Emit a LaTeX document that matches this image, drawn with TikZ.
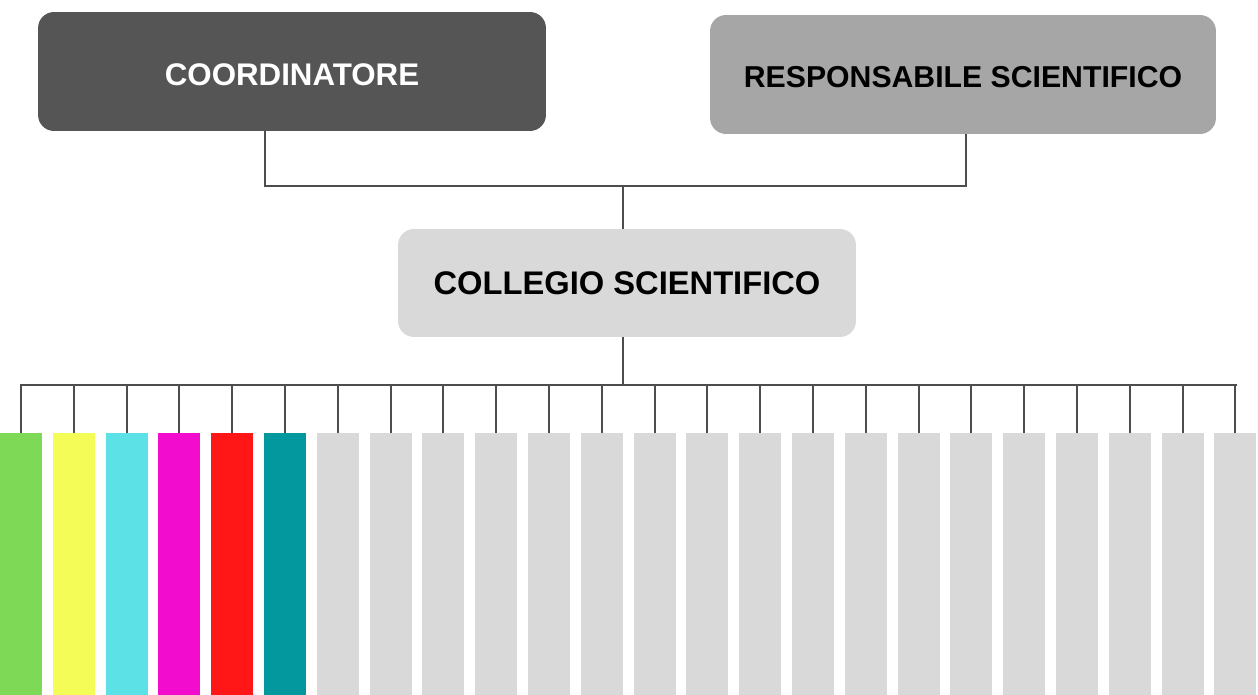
\documentclass[tikz,border=0pt]{standalone}
\usepackage{fontspec}
\setmainfont{Liberation Sans}
\usepackage{tikz}
\usetikzlibrary{positioning}

\definecolor{boxdark}{HTML}{555555}
\definecolor{boxmid}{HTML}{A6A6A6}
\definecolor{boxlight}{HTML}{D9D9D9}
\definecolor{linegray}{HTML}{4D4D4D}
\definecolor{barA}{HTML}{7ED957}
\definecolor{barB}{HTML}{F4FD57}
\definecolor{barC}{HTML}{5CE1E6}
\definecolor{barD}{HTML}{F20CCD}
\definecolor{barE}{HTML}{FF1616}
\definecolor{barF}{HTML}{03989E}

\begin{document}
\begin{tikzpicture}[x=0.02cm, y=-0.02cm,
    box/.style={rounded corners=0.32cm, inner sep=0pt, align=center,
        font=\fontsize{17.5}{20}\selectfont\bfseries},
    bar/.style={minimum width=0.84cm, minimum height=5.3cm, inner sep=0pt, anchor=north},
    link/.style={draw=linegray, line width=1.1pt}]
    \useasboundingbox (0,0) rectangle (1258,695);

    % Vertici
    \node (coord) [box, fill=boxdark, text=white, minimum width=10.16cm, minimum height=2.38cm,
        text height=0.56cm, font=\fontsize{17.8}{20}\selectfont\bfseries]
        at (292,71.5) {COORDINATORE};
    \node (resp) [box, fill=boxmid, minimum width=10.12cm, minimum height=2.38cm,
        text height=0.52cm, font=\fontsize{17.2}{20}\selectfont\bfseries]
        at (963,74.5) {RESPONSABILE SCIENTIFICO};
    \node (coll) [box, fill=boxlight, minimum width=9.16cm, minimum height=2.16cm,
        font=\fontsize{18.6}{20}\selectfont\bfseries] at (627,283) {COLLEGIO SCIENTIFICO};

    \coordinate (join) at (623,186);
    \coordinate (busL) at (20,385);
    \coordinate (busR) at (1237,385);

    \draw [link] ([xshift=-0.54cm]coord.south) |- (join) -| ([xshift=0.06cm]resp.south);
    \draw [link] (join) -- (coll.north -| join);
    \draw [link] (coll.south -| join) -- (join |- busL);
    \draw [link] (busL) -- (busR);

    % Gruppi colorati
    \foreach \i/\c in {1/barA, 2/barB, 3/barC, 4/barD, 5/barE, 6/barF}
        \node (b\i) [bar, fill=\c] at ({21+52.8*(\i-1)},433) {};

    % Gruppi grigi
    \foreach \i in {7,...,24}
        \node (b\i) [bar, fill=boxlight] at ({21+52.8*(\i-1)},433) {};

    \foreach \i in {1,...,24}
        \draw [link] (b\i.north |- busL) -- (b\i.north);
\end{tikzpicture}
\end{document}
